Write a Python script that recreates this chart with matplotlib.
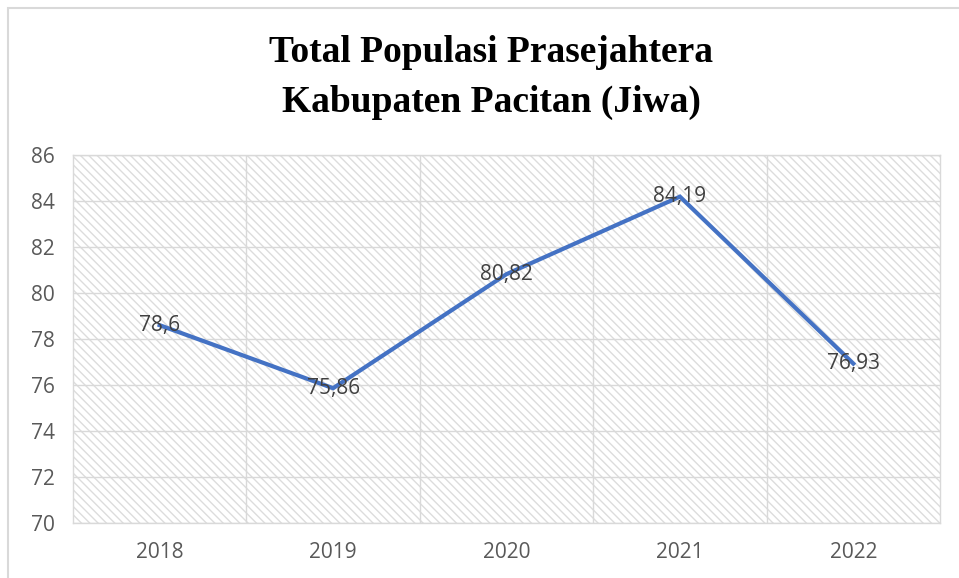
#!/usr/bin/env python3
"""Total Populasi Prasejahtera Kabupaten Pacitan - line chart."""
import matplotlib
matplotlib.use("Agg")
import matplotlib.pyplot as plt
from matplotlib.patches import Rectangle

years = ["2018", "2019", "2020", "2021", "2022"]
values = [78.6, 75.86, 80.82, 84.19, 76.93]
value_labels = ["78,6", "75,86", "80,82", "84,19", "76,93"]
y_ticks = [70, 72, 74, 76, 78, 80, 82, 84, 86]

GRID = "#d9d9d9"
LINE = "#4472C4"

plt.rcParams["font.family"] = ["Open Sans", "DejaVu Sans"]
plt.rcParams["hatch.linewidth"] = 1.0

fig = plt.figure(figsize=(9.59, 5.78), dpi=100)
ax = fig.add_axes([0.0761, 0.0952, 0.9041, 0.6366])

# chart border (runs off the right and bottom of the picture)
fig.patches.append(Rectangle((8 / 959, -0.1), 1.2, 1.1 - 8 / 578,
                             transform=fig.transFigure, fill=False,
                             edgecolor=GRID, linewidth=1.5))

# hatched plot area
ax.add_patch(Rectangle((0, 0), 1, 1, transform=ax.transAxes,
                       facecolor="white", edgecolor="#dcdcdc",
                       hatch="\\\\\\\\", linewidth=0, zorder=0))

xs = list(range(len(years)))
ax.plot(xs, values, color=LINE, linewidth=3, zorder=3,
        solid_joinstyle="miter")

for x, v, lab in zip(xs, values, value_labels):
    ax.text(x, v, lab, ha="center", va="center", fontsize=15,
            color="#404040", zorder=4)

ax.set_xlim(-0.5, len(years) - 0.5)
ax.set_ylim(70, 86)
ax.set_yticks(y_ticks)
ax.set_xticks(xs)
ax.set_xticklabels(years)
ax.set_xticks([x - 0.5 for x in range(1, len(years))], minor=True)

ax.grid(axis="y", which="major", color=GRID, linewidth=1, zorder=1)
ax.grid(axis="x", which="minor", color=GRID, linewidth=1, zorder=1)
ax.set_axisbelow(True)

ax.tick_params(axis="both", which="both", length=0, labelsize=15,
               labelcolor="#595959")
ax.tick_params(axis="x", pad=14)
ax.tick_params(axis="y", pad=13)

for sp in ax.spines.values():
    sp.set_color(GRID)
    sp.set_linewidth(1)

fig.text(491 / 959, 1 - 52 / 578, "Total Populasi Prasejahtera",
         ha="center", va="center", fontsize=27, fontweight="bold",
         family="Liberation Serif")
fig.text(491 / 959, 1 - 102 / 578, "Kabupaten Pacitan (Jiwa)",
         ha="center", va="center", fontsize=27, fontweight="bold",
         family="Liberation Serif")

fig.savefig("out.png", dpi=100)
